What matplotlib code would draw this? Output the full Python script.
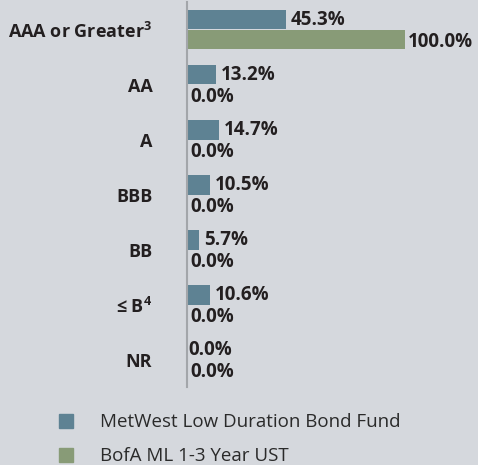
import matplotlib.pyplot as plt
from matplotlib.patches import Patch
import numpy as np

categories = ["AAA or Greater$^{\\mathbf{3}}$", "AA", "A", "BBB", "BB", "\u2264 B$^{\\mathbf{4}}$", "NR"]
fund = [45.3, 13.2, 14.7, 10.5, 5.7, 10.6, 0.0]
index = [100.0, 0.0, 0.0, 0.0, 0.0, 0.0, 0.0]
series_names = ["MetWest Low Duration Bond Fund", "BofA ML 1-3 Year UST"]

bg = "#d5d8dd"
blue = "#5e8293"
green = "#889b77"
txt = "#231f20"

plt.rcParams['font.family'] = ['Open Sans', 'DejaVu Sans']
plt.rcParams['mathtext.fontset'] = 'custom'
plt.rcParams['mathtext.rm'] = 'Open Sans:bold'
plt.rcParams['mathtext.bf'] = 'Open Sans:bold'

fig = plt.figure(figsize=(4.78, 4.65), dpi=100, facecolor=bg)
ax = fig.add_axes([187 / 478, 1 - 387 / 465, 291 / 478, 385 / 465])
ax.set_facecolor(bg)

y = np.arange(len(categories))
h = 0.36
ax.barh(y - h / 2, fund, height=h, color=blue)
ax.barh(y + h / 2, index, height=h, color=green)

for i in range(len(categories)):
    ax.annotate(f"{fund[i]:.1f}%", (fund[i], y[i] - h / 2), xytext=(5 if fund[i] else 1, 0),
                textcoords="offset pixels", va="center", ha="left",
                fontsize=13.5, fontweight="bold", color=txt)
    ax.annotate(f"{index[i]:.1f}%", (index[i], y[i] + h / 2), xytext=(3, -3),
                textcoords="offset pixels", va="center", ha="left",
                fontsize=13.5, fontweight="bold", color=txt)

ax.set_xlim(0, 133.5)
ax.set_ylim(len(categories) - 0.5, -0.5)
ax.set_yticks(y)
ax.set_yticklabels(categories, fontsize=13, fontweight="bold", color=txt)
ax.tick_params(axis="y", length=0, pad=25)
ax.set_xticks([])
for s in ["top", "right", "bottom"]:
    ax.spines[s].set_visible(False)
ax.spines["left"].set_color("#a3a6aa")
ax.spines["left"].set_linewidth(1.5)

handles = [Patch(color=blue), Patch(color=green)]
fig.legend(handles, series_names, loc="upper left", bbox_to_anchor=(50 / 478, 1 - 404 / 465),
           frameon=False, fontsize=13.5, handlelength=0.75, handleheight=0.75,
           handletextpad=1.4, labelspacing=0.85, borderpad=0, labelcolor="#2a2a2a")

fig.savefig("out.png", dpi=100, facecolor=bg)
